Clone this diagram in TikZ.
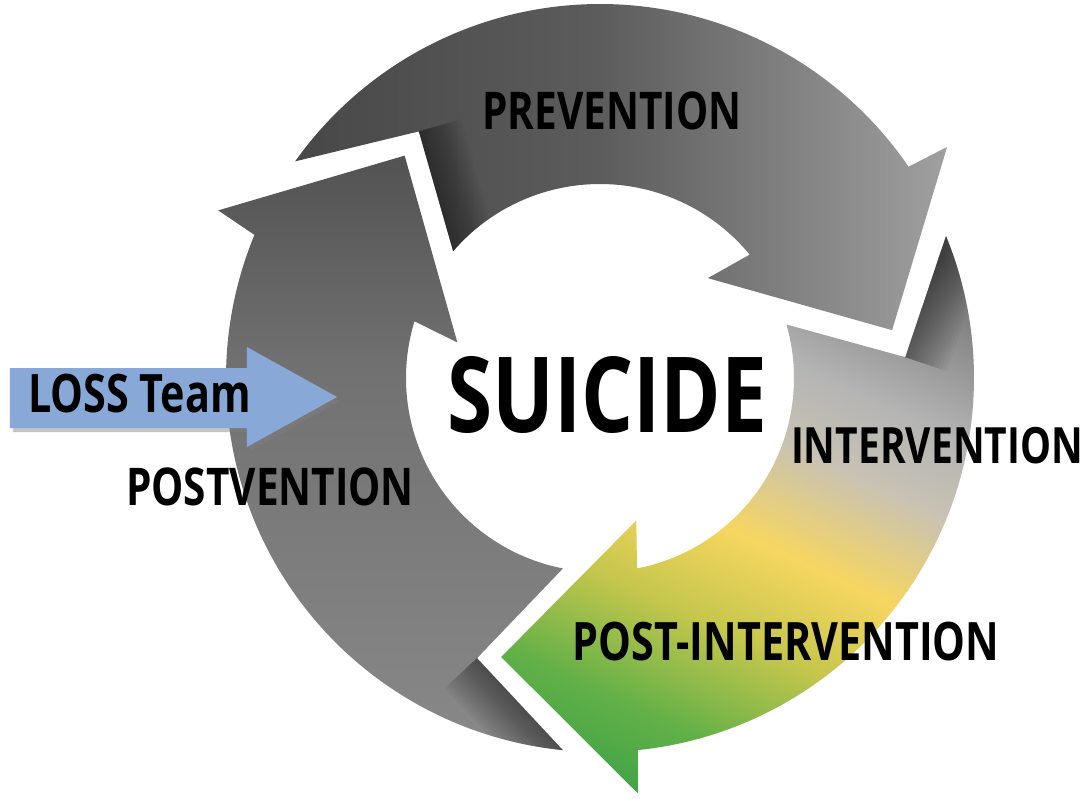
\documentclass[tikz,border=0pt]{standalone}
\usepackage{fontspec}
\newfontfamily\osc[FakeStretch=0.78]{Open Sans}
\usetikzlibrary{shadows}
\definecolor{gA}{HTML}{464646}
\definecolor{gB}{HTML}{5C5C5C}
\definecolor{gC}{HTML}{A6A6A6}
\definecolor{lA}{HTML}{505050}
\definecolor{lB}{HTML}{727272}
\definecolor{lC}{HTML}{8A8A8A}
\definecolor{rA}{HTML}{6E6E6E}
\definecolor{rB}{HTML}{B4B4B4}
\definecolor{rC}{HTML}{C8C2B4}
\definecolor{rD}{HTML}{F6D660}
\definecolor{rE}{HTML}{C4C64C}
\definecolor{rF}{HTML}{62B048}
\definecolor{rG}{HTML}{3FA346}
\definecolor{lossblue}{RGB}{136,168,216}
% #1 options, #2 tail outer, #3 outer shaft end, #4 outer barb, #5 tip, #6 inner barb, #7 inner shaft end, #8 tail inner, #9 tail notch
\newcommand\cyclearrowpath[9]{\path[#1] (#2:374pt) arc[start angle=#2,end angle=#3,radius=374pt] -- (#4:417pt) -- (#5:296pt) -- (#6:147pt) -- (#7:194pt) arc[start angle=#7,end angle=#8,radius=194pt] -- (#9:306pt) -- cycle;}
\tikzset{
  lbl/.style={inner sep=0pt, text=black},
  softshade/.style={black, opacity=0.03}
}
\begin{document}
\begin{tikzpicture}[x=1pt,y=1pt]
\useasboundingbox (-600,-420) rectangle (486,378);
\fill[white] (-600,-420) rectangle (486,378);

% top arrow: PREVENTION
\begin{scope}
\cyclearrowpath{clip}{144.6}{34.4}{33.65}{9.3}{42.8}{39.5}{139.2}{126.3}
\shade[left color=gA, right color=gB] (-330,-60) rectangle (0,400);
\shade[left color=gB, right color=gC] (0,-60) rectangle (380,400);
\foreach \w in {4,10,...,88} \draw[softshade, line width=\w pt] (126.3:306pt) -- (139.2:194pt);
\end{scope}

% right arrow: INTERVENTION / POST-INTERVENTION
\begin{scope}
\cyclearrowpath{clip}{22.3}{-84.2}{-84.8}{-109.5}{-75.7}{-79}{16}{3.9}
\begin{scope}[transform canvas={rotate=-25}]
\fill[rA] (-700,252) rectangle (700,520);
\shade[top color=rA, bottom color=rB] (-700,95.5) rectangle (700,252.5);
\shade[top color=rB, bottom color=rC] (-700,20) rectangle (700,96);
\shade[top color=rC, bottom color=rD] (-700,-82) rectangle (700,20.5);
\shade[top color=rD, bottom color=rE] (-700,-178) rectangle (700,-81.5);
\shade[top color=rE, bottom color=rF] (-700,-285) rectangle (700,-177.5);
\shade[top color=rF, bottom color=rG] (-700,-371) rectangle (700,-284.5);
\fill[rG] (-700,-520) rectangle (700,-370.5);
\end{scope}
\foreach \w in {4,10,...,88} \draw[softshade, line width=\w pt] (22.3:374pt) -- (3.9:306pt);
\end{scope}

% left arrow: POSTVENTION
\begin{scope}
\cyclearrowpath{clip}{-95.7}{-202.5}{-203.7}{-228.7}{-194}{-197}{-101}{-113.7}
\shade[top color=lA, bottom color=lB] (-450,0) rectangle (0,240);
\shade[top color=lB, bottom color=lC] (-450,-400) rectangle (0,0.5);
\foreach \w in {4,10,...,88} \draw[softshade, line width=\w pt] (-113.7:306pt) -- (-95.7:374pt);
\end{scope}

% LOSS Team arrow
\coordinate (lossTL) at (-590,10);
\coordinate (lossNT) at (-353,10);
\coordinate (lossBT) at (-353,31);
\coordinate (lossTip) at (-263,-19);
\coordinate (lossBB) at (-353,-69);
\coordinate (lossNB) at (-353,-50);
\coordinate (lossBL) at (-590,-50);
\fill[lossblue, drop shadow={shadow xshift=3pt, shadow yshift=-4pt, opacity=0.45}]
  (lossTL) -- (lossNT) -- (lossBT) -- (lossTip) -- (lossBB) -- (lossNB) -- (lossBL) -- cycle;

% labels
\node[lbl, font={\osc\bfseries\fontsize{52pt}{52pt}\selectfont}] (prev) at (12,267) {PREVENTION};
\node[lbl, font={\osc\bfseries\fontsize{105pt}{105pt}\selectfont}] (suicide) at (7,-17) {SUICIDE};
\node[lbl, font={\osc\bfseries\fontsize{50pt}{50pt}\selectfont}] (interv) at (337,-68) {INTERVENTION};
\node[lbl, font={\osc\bfseries\fontsize{53pt}{53pt}\selectfont}] (postint) at (186,-264) {POST-INTERVENTION};
\node[lbl, font={\osc\bfseries\fontsize{52pt}{52pt}\selectfont}] (postv) at (-330,-109) {POSTVENTION};
\node[lbl, anchor=west, font={\osc\bfseries\fontsize{53pt}{53pt}\selectfont}] (loss) at (-572,-16) {LOSS Team};
\end{tikzpicture}
\end{document}
